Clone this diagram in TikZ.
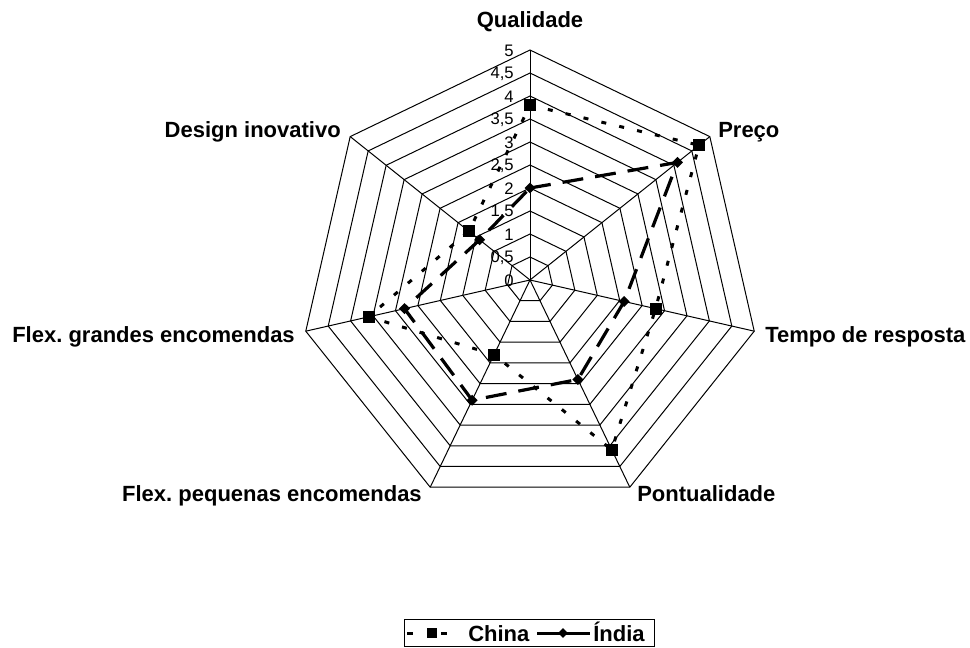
\documentclass[tikz,border=0pt]{standalone}
\usepackage{fontspec}
\setmainfont{Liberation Sans}
\frenchspacing
\begin{document}
\begin{tikzpicture}[x=0.75pt,y=-0.75pt,
  grid/.style={line width=0.75pt, black},
  axlabel/.style={font=\bfseries\fontsize{16.5}{18}\selectfont, inner sep=0pt},
  ticklabel/.style={font=\fontsize{12.5}{14}\selectfont, inner sep=0pt, anchor=east},
  chinaline/.style={line width=2.25pt, dash pattern=on 3.75pt off 10pt},
  indialine/.style={line width=2.4pt, dash pattern=on 15.75pt off 9pt},
  sqmark/.style={rectangle, fill=black, draw=none, minimum size=9pt, inner sep=0pt},
  dmmark/.style={rectangle, fill=black, draw=none, minimum size=5.8pt, inner sep=0pt, rotate=45},
  legtext/.style={font=\bfseries\fontsize{16.5}{18}\selectfont, inner sep=0pt, anchor=base west}
]
\useasboundingbox (0,0) rectangle (970,648);

% centre and outer vertices of the seven axes
\coordinate (O) at (530,280);
\foreach \k in {0,...,6}
  \coordinate (v\k) at ({530+230*sin(\k*360/7)}, {280-230*cos(\k*360/7)});

% concentric heptagons, one every 0.5
\foreach \r in {1,...,10}
  \draw[grid] (530,{280-23*\r})
    \foreach \k in {1,...,6} { -- ({530+23*\r*sin(\k*360/7)}, {280-23*\r*cos(\k*360/7)}) } -- cycle;

% spokes
\foreach \k in {0,...,6}
  \draw[grid] (O) -- (v\k);

% value scale
\foreach \s [count=\i from 0] in {0,{0,5},1,{1,5},2,{2,5},3,{3,5},4,{4,5},5}
  \node[ticklabel] (t\i) at (514,{281-23*\i}) {\s};

% category labels
\node[axlabel, anchor=base] (lq) at (530,28) {Qualidade};
\node[axlabel, anchor=base west] (lp) at (718,138) {Preço};
\node[axlabel, anchor=base west] (lt) at (765,342) {Tempo de resposta};
\node[axlabel, anchor=base west] (lpo) at (637,501) {Pontualidade};
\node[axlabel, anchor=base east] (lfp) at (422,501) {Flex. pequenas encomendas};
\node[axlabel, anchor=base east] (lfg) at (295,342) {Flex. grandes encomendas};
\node[axlabel, anchor=base east] (ld) at (341,138) {Design inovativo};

% data points
\foreach \v [count=\k from 0] in {3.8,4.7,2.8,4.1,1.8,3.6,1.7}
  \coordinate (cp\k) at ({530+46*\v*sin(\k*360/7)}, {280-46*\v*cos(\k*360/7)});
\foreach \v [count=\k from 0] in {2.0,4.1,2.1,2.4,2.9,2.8,1.4}
  \coordinate (ip\k) at ({530+46*\v*sin(\k*360/7)}, {280-46*\v*cos(\k*360/7)});

\draw[indialine] (ip0) -- (ip1) -- (ip2) -- (ip3) -- (ip4) -- (ip5) -- (ip6) -- cycle;
\draw[chinaline] (cp0) -- (cp1) -- (cp2) -- (cp3) -- (cp4) -- (cp5) -- (cp6) -- cycle;

\foreach \k in {0,...,6} {
  \node[dmmark] (im\k) at (ip\k) {};
  \node[sqmark] (cm\k) at (cp\k) {};
}

% legend
\node[draw, line width=0.75pt, minimum width=187.5pt, minimum height=20.6pt, inner sep=0pt] (leg) at (529,633.25) {};
\coordinate (lc1) at (407,633);
\coordinate (lc2) at (413,633);
\coordinate (lc3) at (441,633);
\coordinate (lc4) at (447,633);
\draw[line width=2.25pt] (lc1) -- (lc2);
\draw[line width=2.25pt] (lc3) -- (lc4);
\node[sqmark, minimum size=7.5pt] (lcm) at (432,633) {};
\node[legtext] (lchina) at (468,641) {China};
\coordinate (li1) at (537,633);
\coordinate (li2) at (590,633);
\draw[line width=2.25pt] (li1) -- (li2);
\node[dmmark, minimum size=5.2pt] (lim) at (563,633) {};
\node[legtext] (lindia) at (593,641) {Índia};
\end{tikzpicture}
\end{document}
